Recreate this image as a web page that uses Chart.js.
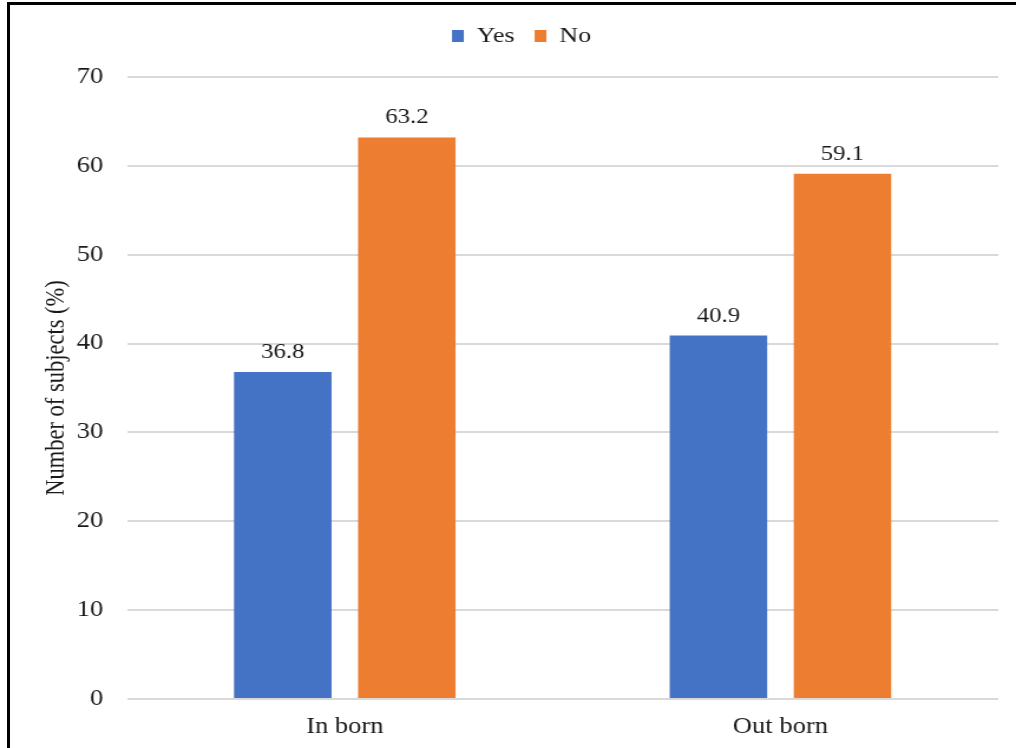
<!DOCTYPE html>
<html>
<head>
<meta charset="utf-8">
<script src="https://cdn.jsdelivr.net/npm/chart.js@4/dist/chart.umd.min.js"></script>
<style>
  html, body { margin: 0; padding: 0; background: #fff; overflow: hidden; }
  #stage { position: relative; width: 1016px; height: 748px; overflow: hidden; }
  /* the chart is drawn slightly narrow and widened, giving the broad serif lettering */
  #wrap { position: absolute; left: 0; top: 0; width: 861px; height: 748px;
          transform: scaleX(1.18); transform-origin: 0 0; }
  #frame { position: absolute; left: 7px; top: 2px; width: 1020px; height: 800px;
           border-left: 3px solid #000; border-top: 3px solid #000; pointer-events: none; }
</style>
</head>
<body>
<div id="stage">
  <div id="wrap"><canvas id="c" width="861" height="748"></canvas></div>
  <div id="frame"></div>
</div>
<script>
const categories = ['In born', 'Out born'];
const seriesNames = ['Yes', 'No'];
const yesValues = [36.8, 40.9];
const noValues = [63.2, 59.1];
const yTicks = [0, 10, 20, 30, 40, 50, 60, 70];
const yTitle = 'Number of subjects (%)';

const SERIF = "'Liberation Serif', 'Times New Roman', serif";
const INK = '#1a1a1a';

// prints each bar's value just above its top
const valueLabels = {
  id: 'valueLabels',
  afterDatasetsDraw(chart) {
    const ctx = chart.ctx;
    ctx.save();
    ctx.font = `21px ${SERIF}`;
    ctx.fillStyle = INK;
    ctx.textAlign = 'center';
    ctx.textBaseline = 'alphabetic';
    chart.data.datasets.forEach((ds, i) => {
      chart.getDatasetMeta(i).data.forEach((bar, j) => {
        ctx.fillText(ds.data[j].toFixed(1), bar.x, bar.y - 14);
      });
    });
    ctx.restore();
  }
};

// leaves extra room between the legend row and the plot
const legendGap = {
  id: 'legendGap',
  afterInit(chart) {
    const lg = chart.legend;
    if (!lg) return;
    const fit = lg.fit;
    lg.fit = function () {
      fit.call(this);
      this.height += 20;
    };
  }
};

new Chart(document.getElementById('c'), {
  type: 'bar',
  data: {
    labels: categories,
    datasets: [
      { label: seriesNames[0], data: yesValues, backgroundColor: '#4472C4' },
      { label: seriesNames[1], data: noValues, backgroundColor: '#ED7D31' }
    ]
  },
  options: {
    responsive: false,
    animation: false,
    devicePixelRatio: 1,
    categoryPercentage: 0.5695,
    barPercentage: 0.786,
    layout: { padding: { left: 38, right: 15, top: 8, bottom: 0 } },
    plugins: {
      tooltip: { enabled: false },
      legend: {
        position: 'top',
        labels: {
          font: { family: SERIF, size: 22 },
          color: INK,
          boxWidth: 10,
          boxHeight: 12,
          padding: 17
        }
      }
    },
    scales: {
      x: {
        grid: { display: false, drawTicks: false },
        border: { display: false },
        ticks: { font: { family: SERIF, size: 22.5 }, color: INK, padding: 15 },
        afterFit(scale) { scale.height = 49; }
      },
      y: {
        min: 0,
        max: yTicks[yTicks.length - 1],
        afterBuildTicks(scale) { scale.ticks = yTicks.map(v => ({ value: v })); },
        grid: { color: '#d9d9d9', lineWidth: 2, drawTicks: false },
        border: { display: false },
        ticks: { font: { family: SERIF, size: 22.5 }, color: INK, padding: 20 },
        title: {
          display: true,
          text: yTitle,
          font: { family: SERIF, size: 22.5, lineHeight: 0.9 },
          color: INK,
          padding: 0
        },
        afterFit(scale) { scale.width = 69.6; }
      }
    }
  },
  plugins: [valueLabels, legendGap]
});
</script>
</body>
</html>
